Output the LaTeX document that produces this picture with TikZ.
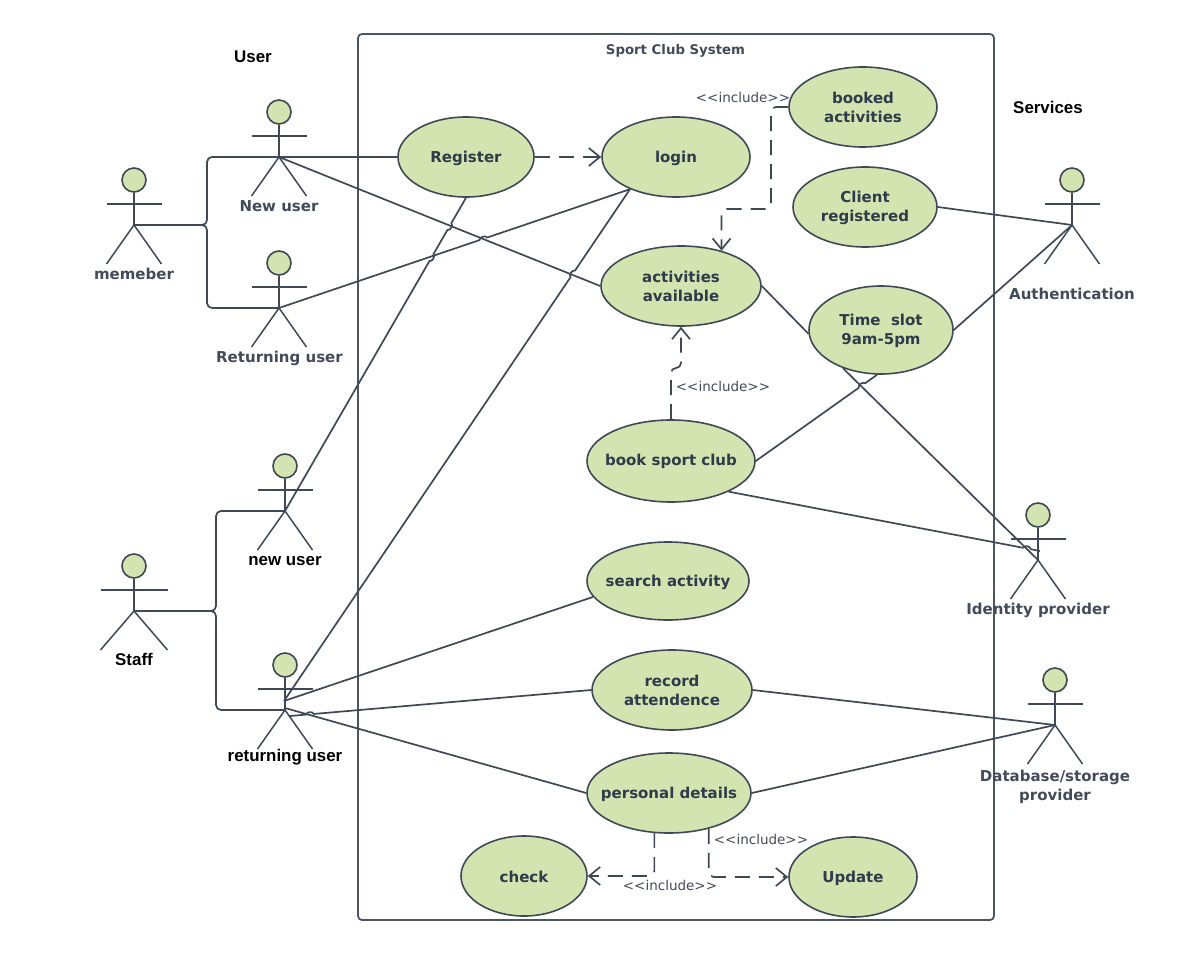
\documentclass[tikz,border=0pt]{standalone}
\usepackage{fontspec}
\setmainfont{DejaVu Sans}[Ligatures=NoCommon]
\newfontfamily\blackfont{Liberation Sans}
\usetikzlibrary{shapes.geometric,calc,arrows.meta}
\definecolor{ln}{HTML}{3F4956}
\definecolor{fr}{HTML}{4A5563}
\definecolor{fl}{HTML}{D3E4B0}
\definecolor{tx}{HTML}{2F3A4A}
\definecolor{tg}{HTML}{414B5A}
\tikzset{
  conn/.style={draw=ln,line width=1.7pt},
  dep/.style={draw=ln,line width=1.7pt,dash pattern=on 15pt off 9pt,rounded corners=5pt,-{Straight Barb[length=11pt,width=18pt]}},
  branch/.style={draw=ln,line width=1.7pt,rounded corners=5pt},
  uc/.style={ellipse,draw=ln,line width=1.6pt,fill=fl,inner sep=0pt},
  uctext/.style={align=center,text=tx,inner sep=0pt,font=\fontsize{15}{19}\selectfont\bfseries},
  head/.style={circle,draw=ln,line width=1.6pt,fill=fl,inner sep=0pt,minimum size=24pt},
  limb/.style={draw=ln,line width=1.5pt},
  alabel/.style={text=tg,align=center,inner sep=0pt,font=\fontsize{15}{19}\selectfont\bfseries},
  blabel/.style={text=black,inner sep=0pt,font=\blackfont\fontsize{16.9}{19}\selectfont\bfseries},
  inc/.style={text=tg,inner sep=0pt,font=\fontsize{13.5}{16}\selectfont},
}
\newcommand{\actor}[4][27.5]{%
  \coordinate (#2) at (#3,#4);
  \node[head] (#2h) at (#3,#4-45) {};
  \draw[limb] (#2h) -- (#2);
  \draw[limb] (#2) ++(-#1,-21) -- ++(2*#1,0);
  \draw[limb] (#3-#1,#4+39) -- (#2) -- (#3+#1,#4+39);
}
\newcommand{\usecase}[7][0.5]{%
  \node[uc,minimum width=#5pt,minimum height=#6pt] (#2) at (#3,#4) {};
  \node[uctext] (#2t) at (#3,#4+#1) {#7};}
\newcommand{\incl}{{<}{<}include{>}{>}}
\begin{document}
\begin{tikzpicture}[x=1pt,y=-1pt]
\useasboundingbox (0,0) rectangle (1200,955);
\draw[draw=fr,line width=1.8pt,rounded corners=4pt] (358,34) rectangle (994,920);

\usecase[1.7]{reg}{466}{157}{136}{80}{Register}
\usecase[1.7]{login}{676}{157}{148}{80}{login}
\usecase[0]{booked}{863}{107}{148}{80}{booked\\activities}
\usecase{client}{865}{207}{144}{80}{Client\\registered}
\usecase{avail}{681}{286}{160}{80}{activities\\available}
\usecase[1.3]{slot}{881}{330}{144}{88}{Time\ \ slot\\9am-5pm}
\usecase{book}{671}{461}{168}{82}{book sport club}
\usecase[1.5]{search}{668}{581}{162}{78}{search activity}
\usecase{record}{672}{690}{160}{80}{record\\attendence}
\usecase[1.5]{pers}{669}{793}{164}{80}{personal details}
\usecase{check}{524}{876}{126}{80}{check}
\usecase[1.5]{upd}{853}{877}{128}{80}{Update}

\actor{mem}{134}{225}
\actor{newu}{279}{157}
\actor{retu}{279}{308}
\actor{newst}{285}{511}
\actor[33.5]{staff}{134}{611}
\actor{retst}{285}{710}
\actor{auth}{1072}{225}
\actor{idp}{1038}{560}
\actor{dbs}{1055}{725}

\coordinate (retstA) at (284,701);
\coordinate (retstB) at (290,716);
\coordinate (retstC) at (285,708);
\coordinate (idpA) at (1040,551);

% branches
\draw[branch] (mem) -- ++(73,0) |- (newu);
\draw[branch] (mem) -- ++(73,0) |- (retu);
\draw[branch] (staff) -- ++(82,0) |- (newst);
\draw[branch] (staff) -- ++(82,0) |- (retst);

% associations
\draw[conn] (newu) -- (reg.west);
\draw[conn] (newu) -- (avail.west);
\draw[conn] (reg.south) -- ($(reg.south)!0.081!(newst)$) to[bend left=70] ($(reg.south)!0.103!(newst)$)
  -- ($(reg.south)!0.180!(newst)$) to[bend left=70] ($(reg.south)!0.202!(newst)$) -- (newst);
\draw[conn] (retu) -- ($(retu)!0.571!(login.215)$) to[bend left=70] ($(retu)!0.593!(login.215)$) -- (login.215);
\draw[conn] (retstA) -- ($(retstA)!0.828!(login.215)$) to[bend left=70] ($(retstA)!0.841!(login.215)$) -- (login.215);
\draw[conn] (retstA) -- (search.192);
\draw[conn] (retstB) -- ($(retstB)!0.053!(record.west)$) to[bend left=70] ($(retstB)!0.079!(record.west)$) -- (record.west);
\draw[conn] (retstC) -- (pers.west);
\draw[conn] (avail.east) -- (slot.183);
\draw[conn] (client.east) -- (auth);
\draw[conn] (slot.east) -- (auth);
\draw[conn] (slot.225) -- (idp);
\draw[conn] (book.east) -- ($(book.east)!0.848!(slot.265)$) to[bend left=70] ($(book.east)!0.902!(slot.265)$) -- (slot.265);
\draw[conn] (book.-28.5) -- ($(book.-28.5)!0.945!(idpA)$) to[bend left=70] ($(book.-28.5)!0.971!(idpA)$) -- (idpA);
\draw[conn] (record.east) -- (dbs);
\draw[conn] (pers.east) -- (dbs);

% include dependencies
\draw[dep] (reg.east) -- (login.west);
\draw[dep] (booked.west) -| (771,209) -| (avail.41);
\draw[dep] (book.north) |- (681,368) -- (avail.south);
\draw[dep] (pers.-110.8) |- (check.east);
\draw[dep] (pers.-42) |- (upd.west);

% labels
\node[blabel] (tuser) at (253,56.5) {User};
\node[blabel] (tserv) at (1048,107.5) {Services};
\node[text=tg,inner sep=0pt,font=\fontsize{13.3}{16}\selectfont\bfseries] (tsys) at (675.5,51) {Sport Club System};
\node[alabel] (lnewu) at (279,206) {New user};
\node[alabel] (lmem) at (134,274) {memeber};
\node[alabel] (lretu) at (279.5,358.5) {Returning user};
\node[blabel] (lnewst) at (285,561) {new user};
\node[blabel] (lstaff) at (134,659.5) {Staff};
\node[blabel] (lretst) at (285,757) {returning user};
\node[alabel] (lauth) at (1072,293.5) {Authentication};
\node[alabel] (lidp) at (1038,610) {Identity provider};
\node[alabel] (ldbs) at (1055,787) {Database/storage\\provider};
\node[inc] (i1) at (743,97) {\incl};
\node[inc] (i2) at (723,386) {\incl};
\node[inc] (i3) at (761,839) {\incl};
\node[inc] (i4) at (670,885) {\incl};
\end{tikzpicture}
\end{document}
